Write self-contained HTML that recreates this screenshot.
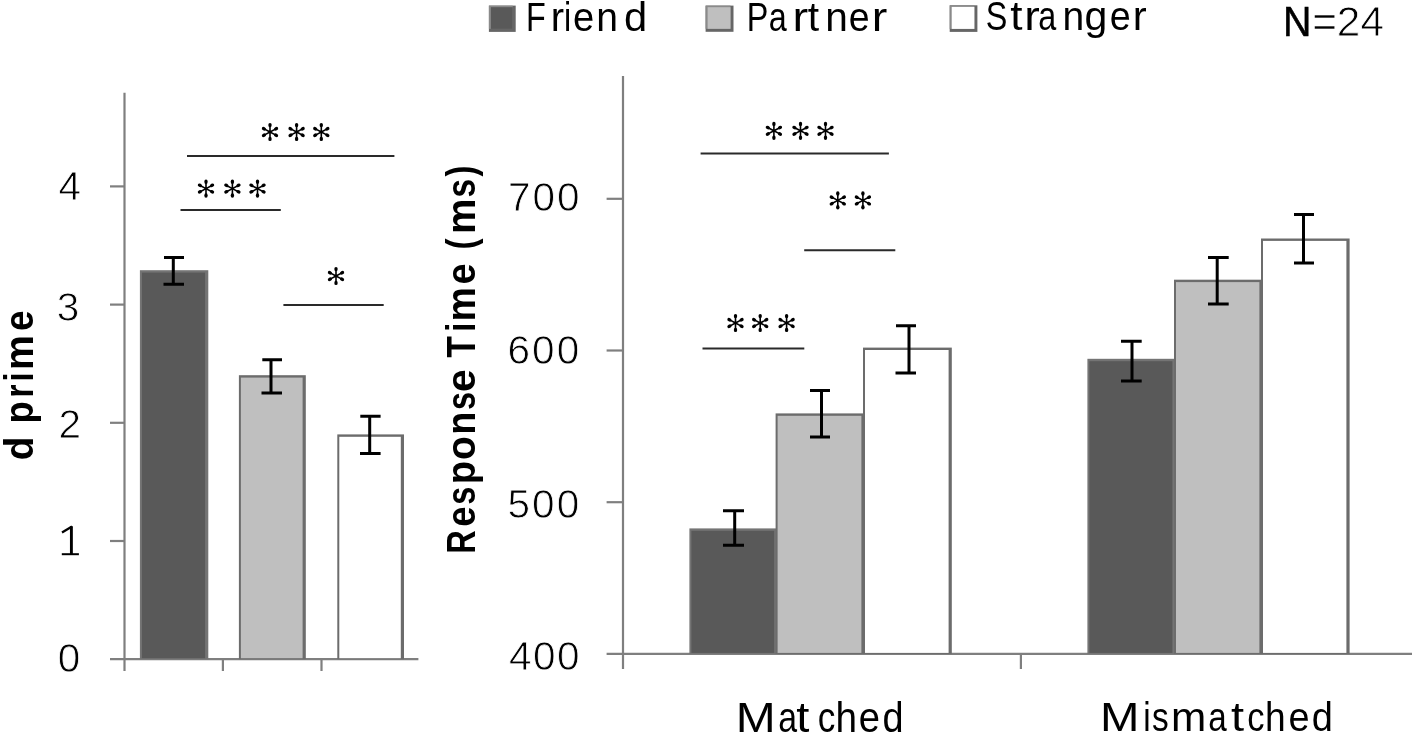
<!DOCTYPE html>
<html><head><meta charset="utf-8"><style>
html,body{margin:0;padding:0;background:#fff;width:1412px;height:733px;overflow:hidden}
svg{position:absolute;left:0;top:0;display:block;will-change:transform}
text{font-family:"Liberation Sans",sans-serif;fill:#000}
</style></head><body>
<svg width="1412" height="733" viewBox="0 0 1412 733">
<defs>
<g id="ast"><circle r="1.4"/><g transform="rotate(0)"><line x1="0" y1="0" x2="0" y2="-6.6" stroke="#000" stroke-width="1.6"/><ellipse cx="0" cy="-6.9" rx="1.7" ry="2.2"/></g><g transform="rotate(62)"><line x1="0" y1="0" x2="0" y2="-6.6" stroke="#000" stroke-width="1.6"/><ellipse cx="0" cy="-6.9" rx="1.7" ry="2.2"/></g><g transform="rotate(118)"><line x1="0" y1="0" x2="0" y2="-6.6" stroke="#000" stroke-width="1.6"/><ellipse cx="0" cy="-6.9" rx="1.7" ry="2.2"/></g><g transform="rotate(180)"><line x1="0" y1="0" x2="0" y2="-6.6" stroke="#000" stroke-width="1.6"/><ellipse cx="0" cy="-6.9" rx="1.7" ry="2.2"/></g><g transform="rotate(242)"><line x1="0" y1="0" x2="0" y2="-6.6" stroke="#000" stroke-width="1.6"/><ellipse cx="0" cy="-6.9" rx="1.7" ry="2.2"/></g><g transform="rotate(298)"><line x1="0" y1="0" x2="0" y2="-6.6" stroke="#000" stroke-width="1.6"/><ellipse cx="0" cy="-6.9" rx="1.7" ry="2.2"/></g></g>
</defs>
<!-- LEFT CHART -->
<g stroke="#7f7f7f" stroke-width="2.2" fill="none">
<line x1="124.5" y1="92.8" x2="124.5" y2="671"/>
<line x1="110" y1="186.4" x2="124.5" y2="186.4"/>
<line x1="110" y1="304.6" x2="124.5" y2="304.6"/>
<line x1="110" y1="422.8" x2="124.5" y2="422.8"/>
<line x1="110" y1="541" x2="124.5" y2="541"/>
<line x1="110" y1="659.2" x2="418.4" y2="659.2"/>
<line x1="222.9" y1="659.2" x2="222.9" y2="671"/>
<line x1="321.5" y1="659.2" x2="321.5" y2="671"/>
</g>
<rect x="139.9" y="270.2" width="68.4" height="389.0" fill="#747474"/>
<rect x="141.9" y="272.6" width="63.2" height="385.6" fill="#595959"/>
<rect x="238.9" y="375.2" width="66.9" height="284.0" fill="#6c6c6c"/>
<rect x="240.9" y="377.6" width="61.7" height="280.6" fill="#bfbfbf"/>
<rect x="337.3" y="434.4" width="66.7" height="224.8" fill="#6c6c6c"/>
<rect x="339.3" y="436.8" width="61.5" height="221.4" fill="#ffffff"/>
<g stroke="#000" stroke-width="3" fill="none">
<path d="M164 257.5H184M173.3 257.5V284.3M163.5 284.3H184"/>
<path d="M262.3 359.7H282M271 359.7V393M261.5 393H282"/>
<path d="M360.3 416.3H380.6M369.7 416.3V453.6M360 453.6H380.6"/>
</g>
<g stroke="#2a2a2a" stroke-width="2">
<line x1="187" y1="155.9" x2="394.4" y2="155.9"/>
<line x1="180.5" y1="210" x2="280.8" y2="210"/>
<line x1="283.4" y1="305" x2="383.7" y2="305"/>
</g>
<use href="#ast" x="270" y="132"/><use href="#ast" x="296.6" y="132"/><use href="#ast" x="321.3" y="132"/>
<use href="#ast" x="206" y="188.6"/><use href="#ast" x="232.4" y="188.6"/><use href="#ast" x="257.5" y="188.6"/>
<use href="#ast" x="336" y="276"/>
<!-- RIGHT CHART -->
<g stroke="#7f7f7f" stroke-width="2.2" fill="none">
<line x1="623" y1="75.9" x2="623" y2="669"/>
<line x1="606.6" y1="198.8" x2="623" y2="198.8"/>
<line x1="606.6" y1="350.5" x2="623" y2="350.5"/>
<line x1="606.6" y1="502.2" x2="623" y2="502.2"/>
<line x1="606.6" y1="653.9" x2="1412" y2="653.9"/>
<line x1="1020.9" y1="653.9" x2="1020.9" y2="669"/>
</g>
<rect x="689.4" y="528.4" width="88.0" height="125.5" fill="#747474"/>
<rect x="691.4" y="530.8" width="82.8" height="122.1" fill="#595959"/>
<rect x="775.6" y="413.4" width="89.0" height="240.5" fill="#6c6c6c"/>
<rect x="777.6" y="415.8" width="83.8" height="237.1" fill="#bfbfbf"/>
<rect x="863.0" y="347.6" width="88.8" height="306.3" fill="#6c6c6c"/>
<rect x="865.0" y="350.0" width="83.6" height="302.9" fill="#ffffff"/>
<rect x="1087.4" y="358.8" width="88.2" height="295.1" fill="#747474"/>
<rect x="1089.4" y="361.2" width="83.0" height="291.7" fill="#595959"/>
<rect x="1174.0" y="279.7" width="88.6" height="374.2" fill="#6c6c6c"/>
<rect x="1176.0" y="282.1" width="83.4" height="370.8" fill="#bfbfbf"/>
<rect x="1261.0" y="238.5" width="88.6" height="415.4" fill="#6c6c6c"/>
<rect x="1263.0" y="240.9" width="83.4" height="412.0" fill="#ffffff"/>
<g stroke="#000" stroke-width="3" fill="none">
<path d="M723 510.8H744M734.7 510.8V545.3M723 545.3H744"/>
<path d="M810 390.6H830M821.5 390.6V437M810 437H830"/>
<path d="M896 325.7H916M909 325.7V373M895.5 373H916"/>
<path d="M1121 341.2H1141.7M1132 341.2V381.1M1121 381.1H1141.7"/>
<path d="M1208 257.5H1228.7M1217.2 257.5V304M1208 304H1228.7"/>
<path d="M1294 214.4H1314M1303.5 214.4V263M1294 263H1314"/>
</g>
<g stroke="#2a2a2a" stroke-width="2">
<line x1="700.6" y1="153.6" x2="888.9" y2="153.6"/>
<line x1="804.2" y1="250.2" x2="895.3" y2="250.2"/>
<line x1="702.5" y1="348.6" x2="804.3" y2="348.6"/>
</g>
<use href="#ast" x="773.9" y="130.8"/><use href="#ast" x="800.5" y="130.8"/><use href="#ast" x="825.5" y="130.8"/>
<use href="#ast" x="837.8" y="200.4"/><use href="#ast" x="862.9" y="200.4"/>
<use href="#ast" x="735.5" y="323"/><use href="#ast" x="760.2" y="323"/><use href="#ast" x="786.6" y="323"/>
<!-- LEGEND -->
<rect x="488.9" y="5.6" width="26.8" height="26.3" fill="#666"/>
<rect x="488.9" y="5.6" width="23.8" height="23.3" fill="#8a8a8a"/>
<rect x="490.9" y="7.2" width="21.8" height="21.7" fill="#595959"/>
<rect x="705.6" y="5.6" width="27.9" height="26.2" fill="#666"/>
<rect x="705.6" y="5.6" width="24.9" height="23.2" fill="#8a8a8a"/>
<rect x="707.6" y="7.2" width="22.9" height="21.6" fill="#bfbfbf"/>
<rect x="949.7" y="5.3" width="27.7" height="26.6" fill="#666"/>
<rect x="949.7" y="5.3" width="24.7" height="23.6" fill="#8a8a8a"/>
<rect x="951.7" y="6.9" width="22.7" height="22.0" fill="#ffffff"/>

<text x="58.50" y="200.00" font-size="40.5" stroke="#fff" stroke-width="0.8">4</text>
<text x="56.80" y="320.80" font-size="40.5" stroke="#fff" stroke-width="0.8">3</text>
<text x="58.60" y="438.30" font-size="40.5" stroke="#fff" stroke-width="0.8">2</text>
<text x="57.80" y="672.10" font-size="40.5" stroke="#fff" stroke-width="0.8">0</text>
<text x="508.00" y="211.00" font-size="40.5" textLength="71.58" lengthAdjust="spacing" stroke="#fff" stroke-width="0.8">700</text>
<text x="507.60" y="364.40" font-size="40.5" textLength="71.58" lengthAdjust="spacing" stroke="#fff" stroke-width="0.8">600</text>
<text x="507.60" y="517.80" font-size="40.5" textLength="71.58" lengthAdjust="spacing" stroke="#fff" stroke-width="0.8">500</text>
<text x="509.00" y="670.10" font-size="40.5" textLength="70.58" lengthAdjust="spacing" stroke="#fff" stroke-width="0.8">400</text>
<text x="1312.30" y="35.90" font-size="42.3"><tspan x="1312.3" stroke="#fff" stroke-width="0.6">=</tspan><tspan x="1336.7" stroke="#fff" stroke-width="0.8">2</tspan><tspan x="1360.4" stroke="#fff" stroke-width="0.8">4</tspan></text>
<g fill="none" stroke="#000"><path d="M71.4 526.2V555" stroke-width="2.9"/><path d="M61.8 554.2H78.9" stroke-width="2"/><path d="M72 526.6L62 532.4" stroke-width="2.3"/></g>
<text transform="translate(1283.1,35.90) scale(0.93,1)" font-size="42.3" stroke="#000" stroke-width="0.5">N</text>
<text transform="translate(735.70,731.60) scale(1.134,1)" font-size="42.3">M</text>
<text transform="translate(778.20,731.60) scale(0.800,1)" font-size="42.3">a</text>
<text transform="translate(796.30,731.60) scale(1.117,1)" font-size="42.3">t</text>
<text transform="translate(817.77,731.60) scale(0.832,1)" font-size="42.3">c</text>
<text transform="translate(835.57,731.60) scale(0.916,1)" font-size="42.3">h</text>
<text transform="translate(858.80,731.60) scale(0.900,1)" font-size="42.3">e</text>
<text transform="translate(882.61,731.60) scale(0.895,1)" font-size="42.3">d</text>
<text transform="translate(1099.98,731.20) scale(1.141,1)" font-size="41.5">M</text>
<text transform="translate(1143.35,731.20) scale(0.800,1)" font-size="41.5">i</text>
<text transform="translate(1151.89,731.20) scale(0.805,1)" font-size="41.5">s</text>
<text transform="translate(1171.06,731.20) scale(1.020,1)" font-size="41.5">m</text>
<text transform="translate(1208.25,731.20) scale(0.800,1)" font-size="41.5">a</text>
<text transform="translate(1231.10,731.20) scale(1.133,1)" font-size="41.5">t</text>
<text transform="translate(1247.27,731.20) scale(0.832,1)" font-size="41.5">c</text>
<text transform="translate(1265.01,731.20) scale(0.895,1)" font-size="41.5">h</text>
<text transform="translate(1288.39,731.20) scale(0.914,1)" font-size="41.5">e</text>
<text transform="translate(1311.78,731.20) scale(0.915,1)" font-size="41.5">d</text>
<text transform="translate(526.10,31.30) scale(0.800,1)" font-size="40.4">F</text>
<text transform="translate(550.72,31.30) scale(0.991,1)" font-size="40.4">r</text>
<text transform="translate(564.10,31.30) scale(0.800,1)" font-size="40.4">i</text>
<text transform="translate(573.06,31.30) scale(0.945,1)" font-size="40.4">e</text>
<text transform="translate(596.37,31.30) scale(0.967,1)" font-size="40.4">n</text>
<text transform="translate(624.07,31.30) scale(1.032,1)" font-size="40.4">d</text>
<text transform="translate(746.80,31.10) scale(0.800,1)" font-size="40.4">P</text>
<text transform="translate(768.85,31.10) scale(0.800,1)" font-size="40.4">a</text>
<text transform="translate(792.57,31.10) scale(1.164,1)" font-size="40.4">r</text>
<text transform="translate(807.70,31.10) scale(1.009,1)" font-size="40.4">t</text>
<text transform="translate(825.29,31.10) scale(1.006,1)" font-size="40.4">n</text>
<text transform="translate(848.67,31.10) scale(0.930,1)" font-size="40.4">e</text>
<text transform="translate(871.79,31.10) scale(1.155,1)" font-size="40.4">r</text>
<text transform="translate(985.65,30.40) scale(0.800,1)" font-size="40.4">S</text>
<text transform="translate(1010.30,30.40) scale(1.091,1)" font-size="40.4">t</text>
<text transform="translate(1024.19,30.40) scale(1.155,1)" font-size="40.4">r</text>
<text transform="translate(1038.30,30.40) scale(0.800,1)" font-size="40.4">a</text>
<text transform="translate(1062.57,30.40) scale(0.967,1)" font-size="40.4">n</text>
<text transform="translate(1084.48,30.40) scale(1.016,1)" font-size="40.4">g</text>
<text transform="translate(1109.87,30.40) scale(0.935,1)" font-size="40.4">e</text>
<text transform="translate(1132.83,30.40) scale(1.036,1)" font-size="40.4">r</text>
<text transform="translate(475.20,553.65) rotate(-90) scale(0.800,1)" font-size="40.5" font-weight="bold">R</text>
<text transform="translate(475.20,526.80) rotate(-90) scale(0.895,1)" font-size="40.5" font-weight="bold">e</text>
<text transform="translate(475.20,504.65) rotate(-90) scale(0.800,1)" font-size="40.5" font-weight="bold">s</text>
<text transform="translate(475.20,484.28) rotate(-90) scale(0.938,1)" font-size="40.5" font-weight="bold">p</text>
<text transform="translate(475.20,459.96) rotate(-90) scale(0.964,1)" font-size="40.5" font-weight="bold">o</text>
<text transform="translate(475.20,434.86) rotate(-90) scale(0.929,1)" font-size="40.5" font-weight="bold">n</text>
<text transform="translate(475.20,409.95) rotate(-90) scale(0.800,1)" font-size="40.5" font-weight="bold">s</text>
<text transform="translate(475.20,392.01) rotate(-90) scale(1.010,1)" font-size="40.5" font-weight="bold">e</text>
<text transform="translate(475.20,357.80) rotate(-90) scale(0.872,1)" font-size="40.5" font-weight="bold">T</text>
<text transform="translate(475.20,331.80) rotate(-90) scale(0.800,1)" font-size="40.5" font-weight="bold">i</text>
<text transform="translate(475.20,321.42) rotate(-90) scale(0.959,1)" font-size="40.5" font-weight="bold">m</text>
<text transform="translate(475.20,284.43) rotate(-90) scale(0.935,1)" font-size="40.5" font-weight="bold">e</text>
<text transform="translate(475.20,249.43) rotate(-90) scale(0.817,1)" font-size="40.5" font-weight="bold">(</text>
<text transform="translate(475.20,233.97) rotate(-90) scale(0.984,1)" font-size="40.5" font-weight="bold">m</text>
<text transform="translate(475.20,197.62) rotate(-90) scale(0.825,1)" font-size="40.5" font-weight="bold">s</text>
<text transform="translate(475.20,176.50) rotate(-90) scale(0.808,1)" font-size="40.5" font-weight="bold">)</text>
<text transform="translate(32.50,460.17) rotate(-90) scale(0.967,1)" font-size="40" font-weight="bold">d</text>
<text transform="translate(32.50,423.51) rotate(-90) scale(0.905,1)" font-size="40" font-weight="bold">p</text>
<text transform="translate(32.50,397.71) rotate(-90) scale(0.854,1)" font-size="40" font-weight="bold">r</text>
<text transform="translate(32.50,381.45) rotate(-90) scale(0.800,1)" font-size="40" font-weight="bold">i</text>
<text transform="translate(32.50,370.06) rotate(-90) scale(0.978,1)" font-size="40" font-weight="bold">m</text>
<text transform="translate(32.50,331.02) rotate(-90) scale(0.920,1)" font-size="40" font-weight="bold">e</text>
</svg>
</body></html>
